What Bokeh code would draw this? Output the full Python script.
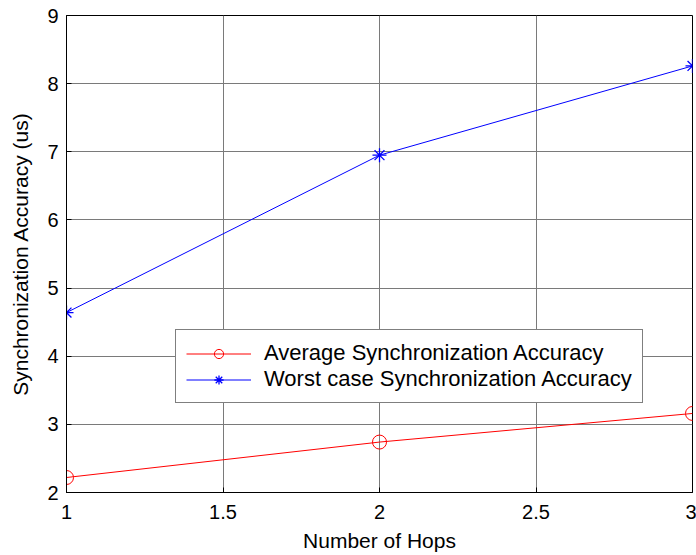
from bokeh.plotting import figure
from bokeh.models import Range1d, FixedTicker, Legend, LegendItem
from bokeh.embed import file_html
from bokeh.resources import INLINE

hops = [1, 2, 3]
avg_acc = [2.22, 2.74, 3.16]
worst_acc = [4.64, 6.95, 8.26]
x_ticks = [1, 1.5, 2, 2.5, 3]
y_ticks = [2, 3, 4, 5, 6, 7, 8, 9]

FONT = "Liberation Sans"

p = figure(width=696, height=555, output_backend="svg", toolbar_location=None,
           x_range=Range1d(1, 3), y_range=Range1d(2, 9),
           min_border_left=66, min_border_right=4, min_border_top=15, min_border_bottom=63)

p.background_fill_color = "white"
p.border_fill_color = "white"
p.outline_line_color = "black"
p.outline_line_width = 1

for ax in (p.xaxis[0], p.yaxis[0]):
    ax.major_tick_in = 5
    ax.major_tick_out = 0
    ax.minor_tick_in = 0
    ax.minor_tick_out = 0
    ax.axis_line_color = "black"
    ax.major_tick_line_color = "black"
    ax.major_label_text_font = FONT
    ax.major_label_text_font_size = "20px"
    ax.major_label_text_color = "black"
    ax.axis_label_text_font = FONT
    ax.axis_label_text_font_size = "21px"
    ax.axis_label_text_font_style = "normal"
    ax.axis_label_text_color = "black"
    ax.major_label_standoff = 8

p.xaxis.ticker = FixedTicker(ticks=x_ticks)
p.yaxis.ticker = FixedTicker(ticks=y_ticks)
p.xaxis.major_label_overrides = {t: ("%g" % t) for t in x_ticks}
p.xaxis.major_label_standoff = 12
p.xaxis.axis_label = "Number of Hops"
p.yaxis.axis_label = "Synchronization Accuracy (us)"
p.xaxis.axis_label_standoff = 7
p.yaxis.axis_label_standoff = 12

p.xgrid.ticker = FixedTicker(ticks=x_ticks)
p.ygrid.ticker = FixedTicker(ticks=y_ticks)
p.grid.grid_line_color = "#7a7a7a"
p.grid.grid_line_width = 1

r1l = p.line(hops, avg_acc, line_color="red", line_width=1)
r1m = p.scatter(hops, avg_acc, marker="circle", size=14, fill_color=None,
                line_color="red", line_width=1)
r2l = p.line(hops, worst_acc, line_color="blue", line_width=1)
r2m = p.scatter(hops, worst_acc, marker="asterisk", size=14,
                line_color="blue", line_width=1.3)

legend = Legend(items=[
    LegendItem(label="Average Synchronization Accuracy", renderers=[r1l, r1m]),
    LegendItem(label="Worst case Synchronization Accuracy", renderers=[r2l, r2m]),
], location=(109, 89))
legend.label_text_font = FONT
legend.label_text_font_size = "22px"
legend.label_text_color = "black"
legend.glyph_width = 65
legend.glyph_height = 23
legend.label_height = 23
legend.spacing = 0
legend.padding = 10
legend.label_standoff = 13
legend.margin = 0
legend.border_line_color = "black"
legend.border_line_width = 1
legend.background_fill_color = "white"
legend.background_fill_alpha = 1
p.add_layout(legend, "center")

open("out.html", "w").write(file_html(p, INLINE))
